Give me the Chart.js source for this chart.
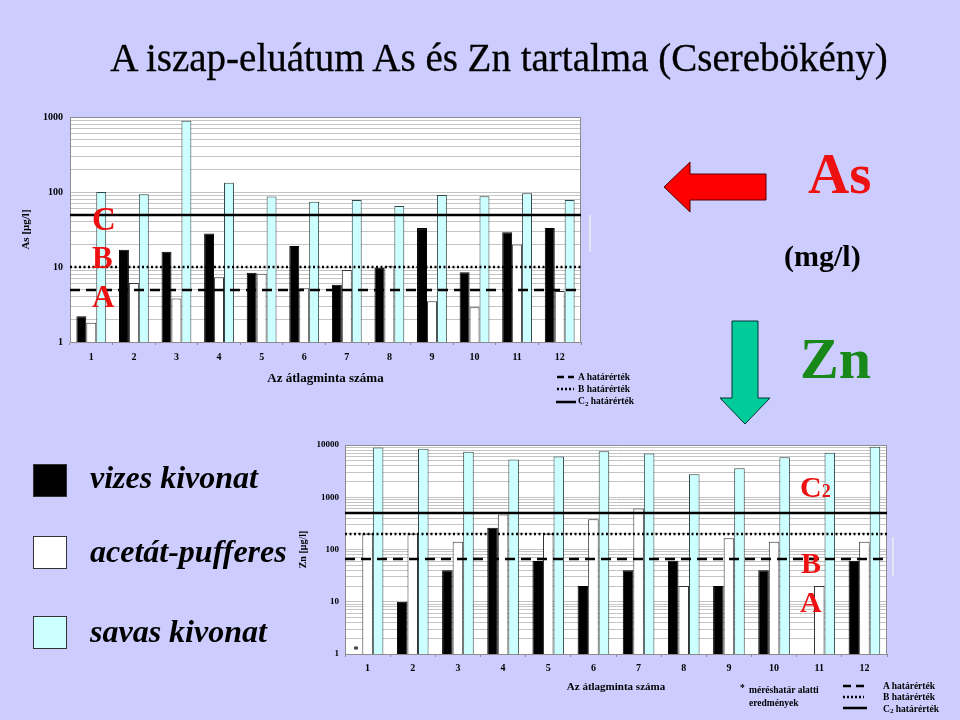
<!DOCTYPE html>
<html lang="hu">
<head>
<meta charset="utf-8">
<title>A iszap-eluátum As és Zn tartalma</title>
<script src="https://cdn.jsdelivr.net/npm/chart.js@4.4.1/dist/chart.umd.min.js"></script>
<style>
  html, body { margin: 0; padding: 0; }
  body {
    width: 960px; height: 720px; background: #ccccff;
    position: relative; overflow: hidden;
    font-family: "Liberation Serif", "Times New Roman", serif;
  }
  canvas { position: absolute; }
  #asChart { left: 0; top: 100px; }
  #znChart { left: 280px; top: 430px; }
  #overlay { position: absolute; left: 0; top: 0; pointer-events: none; }
  #overlay text { font-family: "Liberation Serif", "Times New Roman", serif; }
</style>
</head>
<body>
<canvas id="asChart" width="600" height="290"></canvas>
<canvas id="znChart" width="620" height="270"></canvas>

<svg id="overlay" width="960" height="720">
  <text x="499" y="71" text-anchor="middle" font-size="39" stroke="#000" stroke-width="0.3">A iszap-eluátum As és Zn tartalma (Cserebökény)</text>

  <!-- nyilak -->
  <polygon points="664,187 690,162 690,174 766,174 766,200 690,200 690,212" fill="#ff0000" stroke="#550000" stroke-width="1"/>
  <polygon points="732,321 758,321 758,398 770,398 745,424 720,398 732,398" fill="#00cc99" stroke="#003333" stroke-width="1"/>
  <text x="808" y="193" font-size="57" font-weight="bold" fill="#ee1111">As</text>
  <text x="784" y="266" font-size="30" font-weight="bold">(mg/l)</text>
  <text x="800" y="378" font-size="58" font-weight="bold" fill="#188818">Zn</text>

  <!-- határérték betűk -->
  <g font-weight="bold" fill="#ee1111">
    <text x="92" y="230" font-size="33">C</text>
    <text x="92" y="268" font-size="31">B</text>
    <text x="92" y="307" font-size="31">A</text>
    <text x="800" y="497" font-size="30">C<tspan font-size="18">2</tspan></text>
    <text x="801" y="573" font-size="30">B</text>
    <text x="800" y="612" font-size="30">A</text>
  </g>

  <!-- kivonat jelmagyarázat -->
  <rect x="33.5" y="464.5" width="33" height="32" fill="#000" stroke="#333"/>
  <rect x="33.5" y="536.5" width="33" height="32" fill="#fff" stroke="#333"/>
  <rect x="33.5" y="616.5" width="33" height="32" fill="#ccffff" stroke="#333"/>
  <g font-size="32" font-weight="bold" font-style="italic">
    <text x="90" y="488">vizes kivonat</text>
    <text x="90" y="562">acetát-pufferes</text>
    <text x="90" y="642">savas kivonat</text>
  </g>

  <!-- As határérték jelmagyarázat -->
  <g stroke="#000" stroke-width="2.5">
    <line x1="557" y1="377" x2="574" y2="377" stroke-dasharray="7,4"/>
    <line x1="557" y1="389" x2="574" y2="389" stroke-dasharray="2,2"/>
    <line x1="556" y1="402" x2="576" y2="402"/>
  </g>
  <g font-size="9.5" font-weight="bold">
    <text x="578" y="380">A határérték</text>
    <text x="578" y="392">B határérték</text>
    <text x="578" y="404">C<tspan font-size="7" dy="2">2</tspan><tspan dy="-2"> határérték</tspan></text>
  </g>

  <!-- Zn határérték jelmagyarázat -->
  <g stroke="#000" stroke-width="2.5">
    <line x1="843" y1="686" x2="864" y2="686" stroke-dasharray="8,5"/>
    <line x1="843" y1="697" x2="864" y2="697" stroke-dasharray="2,2"/>
    <line x1="843" y1="708" x2="867" y2="708"/>
  </g>
  <g font-size="9.5" font-weight="bold">
    <text x="883" y="689">A határérték</text>
    <text x="883" y="700">B határérték</text>
    <text x="883" y="712">C<tspan font-size="7" dy="1">2</tspan><tspan dy="-1"> határérték</tspan></text>
  </g>
  <g font-size="9.5" font-weight="bold">
    <text x="740" y="691">*</text>
    <text x="749" y="693">méréshatár alatti</text>
    <text x="749" y="706">eredmények</text>
  </g>

  <line x1="590" y1="215" x2="590" y2="252" stroke="#e6e6f2" stroke-width="2"/>
  <line x1="893" y1="537" x2="893" y2="576" stroke="#e6e6f2" stroke-width="2"/>
</svg>

<script>
const SERIF = '"Liberation Serif", "Times New Roman", serif';

const mintak = ["1", "2", "3", "4", "5", "6", "7", "8", "9", "10", "11", "12"];

// As [µg/l]
const asVizes = [2.2, 17, 16, 28, 8.4, 19, 5.8, 9.8, 33, 8.5, 29, 33];
const asAcetat = [1.8, 6.1, 3.8, 7.3, 8.1, 5.2, 9.1, 10.2, 3.5, 2.9, 20, 4.8];
const asSavas = [100, 93, 890, 133, 87, 74, 78, 65, 91, 88, 96, 78];
const asTicks = [1, 10, 100, 1000];
const asLimits = { A: 5, B: 10, C: 50 };

// Zn [µg/l]
const znVizes = [null, 10, 40, 260, 60, 20, 40, 61, 20, 40, null, 61];
const znAcetat = [200, 200, 140, 470, 200, 380, 610, 20, 165, 140, 20, 140];
const znSavas = [9000, 8500, 7400, 5300, 6000, 7600, 6900, 2750, 3600, 5800, 7100, 9300];
const znTicks = [1, 10, 100, 1000, 10000];
const znLimits = { A: 65, B: 200, C: 500 };
const znMeresHatarAlatt = [0]; // csillaggal jelölt minták (vizes kivonat)

const plotFrame = {
  id: "plotFrame",
  beforeDraw(chart) {
    const { ctx, chartArea: a } = chart;
    ctx.save();
    ctx.fillStyle = "#ffffff";
    ctx.fillRect(a.left, a.top, a.right - a.left, a.bottom - a.top);
    ctx.restore();
  },
  beforeDatasetsDraw(chart) {
    const { ctx, chartArea: a } = chart;
    ctx.save();
    ctx.strokeStyle = "#8c8c8c";
    ctx.lineWidth = 1;
    ctx.strokeRect(a.left + 0.5, a.top + 0.5, a.right - a.left - 1, a.bottom - a.top);
    ctx.restore();
  }
};

const limitLines = {
  id: "limitLines",
  afterDatasetsDraw(chart, args, opts) {
    const { ctx, chartArea, scales } = chart;
    ctx.save();
    ctx.strokeStyle = "#000";
    (opts.lines || []).forEach(line => {
      const py = Math.round(scales.y.getPixelForValue(line.value));
      ctx.beginPath();
      ctx.setLineDash(line.dash);
      ctx.lineWidth = line.width;
      ctx.moveTo(chartArea.left, py);
      ctx.lineTo(chartArea.right, py);
      ctx.stroke();
    });
    ctx.restore();
  }
};

const belowLimitMark = {
  id: "belowLimitMark",
  afterDatasetsDraw(chart, args, opts) {
    const idx = opts.indices || [];
    if (!idx.length) return;
    const { ctx, chartArea } = chart;
    const meta = chart.getDatasetMeta(0);
    ctx.save();
    ctx.fillStyle = "#000";
    ctx.font = `bold 11px ${SERIF}`;
    ctx.textAlign = "center";
    idx.forEach(i => {
      const bar = meta.data[i];
      const x = bar && Number.isFinite(bar.x) ? bar.x : chart.scales.x.getPixelForValue(i) - 10;
      ctx.fillText("*", x - 1, chartArea.bottom - 1);
    });
    ctx.restore();
  }
};

function logGrid(majors) {
  return scale => {
    const ticks = [];
    majors.forEach((v, i) => {
      if (i === majors.length - 1) {
        ticks.push({ value: v });
        return;
      }
      for (let m = 1; m <= 9; m += 1) ticks.push({ value: v * m });
    });
    scale.ticks = ticks;
  };
}

function makeChart(id, cfg) {
  const ctx = document.getElementById(id).getContext("2d");
  return new Chart(ctx, {
    type: "bar",
    data: {
      labels: mintak,
      datasets: [
        { label: "vizes kivonat", data: cfg.vizes, backgroundColor: "#000000", borderColor: "#000000", borderWidth: 1 },
        { label: "acetát-pufferes", data: cfg.acetat, backgroundColor: "#ffffff", borderColor: "#333333", borderWidth: 1 },
        { label: "savas kivonat", data: cfg.savas, backgroundColor: "#ccffff", borderColor: "#334444", borderWidth: 1 }
      ]
    },
    options: {
      responsive: false,
      animation: false,
      categoryPercentage: 0.7,
      barPercentage: 1.0,
      layout: { padding: cfg.padding },
      plugins: {
        legend: { display: false },
        tooltip: { enabled: false },
        limitLines: {
          lines: [
            { value: cfg.limits.A, dash: [10, 6], width: 2.5 },
            { value: cfg.limits.B, dash: [2, 2.5], width: 2.5 },
            { value: cfg.limits.C, dash: [], width: 2.5 }
          ]
        },
        belowLimitMark: { indices: cfg.below || [] }
      },
      scales: {
        x: {
          grid: { drawOnChartArea: false, drawTicks: true, tickLength: 3, color: "#8c8c8c", offset: true },
          border: { color: "#8c8c8c" },
          ticks: { color: "#000", padding: cfg.xTickPad, font: { family: SERIF, size: 10, weight: "bold" } },
          title: {
            display: true,
            text: "Az átlagminta száma",
            color: "#000",
            padding: { top: 0, bottom: cfg.xTitlePad },
            font: { family: SERIF, size: cfg.xTitleSize, weight: "bold" }
          },
          afterFit: scale => { scale.height = cfg.xHeight; }
        },
        y: {
          type: "logarithmic",
          min: cfg.ticks[0],
          max: cfg.ticks[cfg.ticks.length - 1],
          grid: { drawTicks: false, color: "#c4c4c4", lineWidth: 1 },
          border: { color: "#8c8c8c" },
          afterBuildTicks: logGrid(cfg.ticks),
          ticks: {
            autoSkip: false,
            color: "#000",
            padding: cfg.yTickPad,
            font: { family: SERIF, size: cfg.yTickSize, weight: "bold" },
            callback: value => (cfg.ticks.includes(value) ? String(value) : "")
          },
          title: {
            display: true,
            text: cfg.yTitle,
            color: "#000",
            padding: { top: cfg.yTitlePad, bottom: 0 },
            font: { family: SERIF, size: cfg.yTitleSize, weight: "bold" }
          },
          afterFit: scale => { scale.width = cfg.yWidth; }
        }
      }
    },
    plugins: [plotFrame, limitLines, belowLimitMark]
  });
}

makeChart("asChart", {
  vizes: asVizes, acetat: asAcetat, savas: asSavas,
  ticks: asTicks, limits: asLimits,
  yTitle: "As [μg/l]", yTitleSize: 11, yTitlePad: 20, yTickSize: 10, yTickPad: 7, yWidth: 70,
  xTickPad: 6, xTitleSize: 13, xTitlePad: 4, xHeight: 48,
  padding: { left: 0, top: 17, right: 19, bottom: 0 }
});

makeChart("znChart", {
  vizes: znVizes, acetat: znAcetat, savas: znSavas,
  ticks: znTicks, limits: znLimits, below: znMeresHatarAlatt,
  yTitle: "Zn [μg/l]", yTitleSize: 10, yTitlePad: 17, yTickSize: 9, yTickPad: 6, yWidth: 65,
  xTickPad: 5, xTitleSize: 11, xTitlePad: 6, xHeight: 46,
  padding: { left: 0, top: 15, right: 13, bottom: 0 }
});
</script>
</body>
</html>
